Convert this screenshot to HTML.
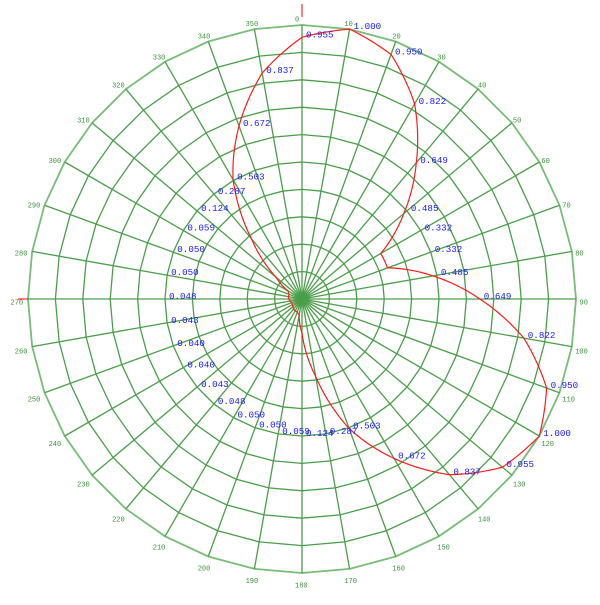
<!DOCTYPE html>
<html><head><meta charset="utf-8"><style>
html,body{margin:0;padding:0;background:#fff;}
svg{display:block;}
.al{font-family:"Liberation Mono",monospace;font-size:7px;fill:#3a8f3a;}
.vl{font-family:"Liberation Mono",monospace;font-size:9.2px;fill:#1a1aff;}
</style></head><body>
<svg width="600" height="605" viewBox="0 0 600 605" xmlns="http://www.w3.org/2000/svg">
<rect width="600" height="605" fill="#fff"/>
<g transform="translate(302 299)" fill="none" stroke="#4a9e4a" stroke-width="1.3">
<polygon vector-effect="non-scaling-stroke" transform="scale(27.4)" points="0,-1 .17365,-.98481 .34202,-.93969 .5,-.86603 .64279,-.76604 .76604,-.64279 .86603,-.5 .93969,-.34202 .98481,-.17365 1,0 .98481,.17365 .93969,.34202 .86603,.5 .76604,.64279 .64279,.76604 .5,.86603 .34202,.93969 .17365,.98481 0,1 -.17365,.98481 -.34202,.93969 -.5,.86603 -.64279,.76604 -.76604,.64279 -.86603,.5 -.93969,.34202 -.98481,.17365 -1,0 -.98481,-.17365 -.93969,-.34202 -.86603,-.5 -.76604,-.64279 -.64279,-.76604 -.5,-.86603 -.34202,-.93969 -.17365,-.98481"/>
<polygon vector-effect="non-scaling-stroke" transform="scale(54.8)" points="0,-1 .17365,-.98481 .34202,-.93969 .5,-.86603 .64279,-.76604 .76604,-.64279 .86603,-.5 .93969,-.34202 .98481,-.17365 1,0 .98481,.17365 .93969,.34202 .86603,.5 .76604,.64279 .64279,.76604 .5,.86603 .34202,.93969 .17365,.98481 0,1 -.17365,.98481 -.34202,.93969 -.5,.86603 -.64279,.76604 -.76604,.64279 -.86603,.5 -.93969,.34202 -.98481,.17365 -1,0 -.98481,-.17365 -.93969,-.34202 -.86603,-.5 -.76604,-.64279 -.64279,-.76604 -.5,-.86603 -.34202,-.93969 -.17365,-.98481"/>
<polygon vector-effect="non-scaling-stroke" transform="scale(82.2)" points="0,-1 .17365,-.98481 .34202,-.93969 .5,-.86603 .64279,-.76604 .76604,-.64279 .86603,-.5 .93969,-.34202 .98481,-.17365 1,0 .98481,.17365 .93969,.34202 .86603,.5 .76604,.64279 .64279,.76604 .5,.86603 .34202,.93969 .17365,.98481 0,1 -.17365,.98481 -.34202,.93969 -.5,.86603 -.64279,.76604 -.76604,.64279 -.86603,.5 -.93969,.34202 -.98481,.17365 -1,0 -.98481,-.17365 -.93969,-.34202 -.86603,-.5 -.76604,-.64279 -.64279,-.76604 -.5,-.86603 -.34202,-.93969 -.17365,-.98481"/>
<polygon vector-effect="non-scaling-stroke" transform="scale(109.6)" points="0,-1 .17365,-.98481 .34202,-.93969 .5,-.86603 .64279,-.76604 .76604,-.64279 .86603,-.5 .93969,-.34202 .98481,-.17365 1,0 .98481,.17365 .93969,.34202 .86603,.5 .76604,.64279 .64279,.76604 .5,.86603 .34202,.93969 .17365,.98481 0,1 -.17365,.98481 -.34202,.93969 -.5,.86603 -.64279,.76604 -.76604,.64279 -.86603,.5 -.93969,.34202 -.98481,.17365 -1,0 -.98481,-.17365 -.93969,-.34202 -.86603,-.5 -.76604,-.64279 -.64279,-.76604 -.5,-.86603 -.34202,-.93969 -.17365,-.98481"/>
<polygon vector-effect="non-scaling-stroke" transform="scale(137)" points="0,-1 .17365,-.98481 .34202,-.93969 .5,-.86603 .64279,-.76604 .76604,-.64279 .86603,-.5 .93969,-.34202 .98481,-.17365 1,0 .98481,.17365 .93969,.34202 .86603,.5 .76604,.64279 .64279,.76604 .5,.86603 .34202,.93969 .17365,.98481 0,1 -.17365,.98481 -.34202,.93969 -.5,.86603 -.64279,.76604 -.76604,.64279 -.86603,.5 -.93969,.34202 -.98481,.17365 -1,0 -.98481,-.17365 -.93969,-.34202 -.86603,-.5 -.76604,-.64279 -.64279,-.76604 -.5,-.86603 -.34202,-.93969 -.17365,-.98481"/>
<polygon vector-effect="non-scaling-stroke" transform="scale(164.4)" points="0,-1 .17365,-.98481 .34202,-.93969 .5,-.86603 .64279,-.76604 .76604,-.64279 .86603,-.5 .93969,-.34202 .98481,-.17365 1,0 .98481,.17365 .93969,.34202 .86603,.5 .76604,.64279 .64279,.76604 .5,.86603 .34202,.93969 .17365,.98481 0,1 -.17365,.98481 -.34202,.93969 -.5,.86603 -.64279,.76604 -.76604,.64279 -.86603,.5 -.93969,.34202 -.98481,.17365 -1,0 -.98481,-.17365 -.93969,-.34202 -.86603,-.5 -.76604,-.64279 -.64279,-.76604 -.5,-.86603 -.34202,-.93969 -.17365,-.98481"/>
<polygon vector-effect="non-scaling-stroke" transform="scale(191.8)" points="0,-1 .17365,-.98481 .34202,-.93969 .5,-.86603 .64279,-.76604 .76604,-.64279 .86603,-.5 .93969,-.34202 .98481,-.17365 1,0 .98481,.17365 .93969,.34202 .86603,.5 .76604,.64279 .64279,.76604 .5,.86603 .34202,.93969 .17365,.98481 0,1 -.17365,.98481 -.34202,.93969 -.5,.86603 -.64279,.76604 -.76604,.64279 -.86603,.5 -.93969,.34202 -.98481,.17365 -1,0 -.98481,-.17365 -.93969,-.34202 -.86603,-.5 -.76604,-.64279 -.64279,-.76604 -.5,-.86603 -.34202,-.93969 -.17365,-.98481"/>
<polygon vector-effect="non-scaling-stroke" transform="scale(219.2)" points="0,-1 .17365,-.98481 .34202,-.93969 .5,-.86603 .64279,-.76604 .76604,-.64279 .86603,-.5 .93969,-.34202 .98481,-.17365 1,0 .98481,.17365 .93969,.34202 .86603,.5 .76604,.64279 .64279,.76604 .5,.86603 .34202,.93969 .17365,.98481 0,1 -.17365,.98481 -.34202,.93969 -.5,.86603 -.64279,.76604 -.76604,.64279 -.86603,.5 -.93969,.34202 -.98481,.17365 -1,0 -.98481,-.17365 -.93969,-.34202 -.86603,-.5 -.76604,-.64279 -.64279,-.76604 -.5,-.86603 -.34202,-.93969 -.17365,-.98481"/>
<polygon vector-effect="non-scaling-stroke" transform="scale(246.6)" points="0,-1 .17365,-.98481 .34202,-.93969 .5,-.86603 .64279,-.76604 .76604,-.64279 .86603,-.5 .93969,-.34202 .98481,-.17365 1,0 .98481,.17365 .93969,.34202 .86603,.5 .76604,.64279 .64279,.76604 .5,.86603 .34202,.93969 .17365,.98481 0,1 -.17365,.98481 -.34202,.93969 -.5,.86603 -.64279,.76604 -.76604,.64279 -.86603,.5 -.93969,.34202 -.98481,.17365 -1,0 -.98481,-.17365 -.93969,-.34202 -.86603,-.5 -.76604,-.64279 -.64279,-.76604 -.5,-.86603 -.34202,-.93969 -.17365,-.98481"/>
<polygon vector-effect="non-scaling-stroke" stroke="#78bc78" stroke-width="1.8" transform="scale(274)" points="0,-1 .17365,-.98481 .34202,-.93969 .5,-.86603 .64279,-.76604 .76604,-.64279 .86603,-.5 .93969,-.34202 .98481,-.17365 1,0 .98481,.17365 .93969,.34202 .86603,.5 .76604,.64279 .64279,.76604 .5,.86603 .34202,.93969 .17365,.98481 0,1 -.17365,.98481 -.34202,.93969 -.5,.86603 -.64279,.76604 -.76604,.64279 -.86603,.5 -.93969,.34202 -.98481,.17365 -1,0 -.98481,-.17365 -.93969,-.34202 -.86603,-.5 -.76604,-.64279 -.64279,-.76604 -.5,-.86603 -.34202,-.93969 -.17365,-.98481"/>
<line y1="-274" y2="274"/>
<line y1="-274" y2="274" transform="rotate(10)"/>
<line y1="-274" y2="274" transform="rotate(20)"/>
<line y1="-274" y2="274" transform="rotate(30)"/>
<line y1="-274" y2="274" transform="rotate(40)"/>
<line y1="-274" y2="274" transform="rotate(50)"/>
<line y1="-274" y2="274" transform="rotate(60)"/>
<line y1="-274" y2="274" transform="rotate(70)"/>
<line y1="-274" y2="274" transform="rotate(80)"/>
<line y1="-274" y2="274" transform="rotate(90)"/>
<line y1="-274" y2="274" transform="rotate(100)"/>
<line y1="-274" y2="274" transform="rotate(110)"/>
<line y1="-274" y2="274" transform="rotate(120)"/>
<line y1="-274" y2="274" transform="rotate(130)"/>
<line y1="-274" y2="274" transform="rotate(140)"/>
<line y1="-274" y2="274" transform="rotate(150)"/>
<line y1="-274" y2="274" transform="rotate(160)"/>
<line y1="-274" y2="274" transform="rotate(170)"/>
</g>
<line x1="302" y1="4" x2="302" y2="17" stroke="#ff0000" stroke-width="1"/>
<line x1="18" y1="299" x2="28" y2="299" stroke="#ff0000" stroke-width="1"/>
<polyline id="curve" fill="none" stroke="#ff1a1a" stroke-width="1.2" points="302,37.33 349.58,29.16 391.03,54.4 414.61,103.95 416.31,162.77 403.8,213.58 380.78,253.52 387.48,267.89 432.87,275.92 479.83,299 523.81,338.11 546.6,388.03 539.29,436 502.45,467.2 449.42,474.68 394.07,458.46 349.14,428.51 315.66,376.44 302,332.98 299.19,314.92 297.31,311.87 295.15,310.86 293.55,309.07 292.98,306.57 292.51,304.48 291.7,302.75 290.4,301.05 288.85,299 288.51,296.62 289.13,294.31 288,290.92 275.97,277.16 251.45,238.76 233.09,179.64 239.02,125.97 262.17,73.14 302,37.33"/>
<g class="al">
<text x="295" y="21.5">0</text>
<text x="344.4" y="25.8">10</text>
<text x="392.3" y="38.6">20</text>
<text x="437.25" y="59.4">30</text>
<text x="477.9" y="87.7">40</text>
<text x="512.9" y="122.6">50</text>
<text x="541.4" y="163">60</text>
<text x="562.3" y="207.7">70</text>
<text x="575.2" y="255.4">80</text>
<text x="579.5" y="304.5">90</text>
<text x="575.2" y="353.6">100</text>
<text x="562.3" y="401.3">110</text>
<text x="541.4" y="446">120</text>
<text x="512.9" y="486.4">130</text>
<text x="477.9" y="521.3">140</text>
<text x="437.25" y="549.6">150</text>
<text x="392.3" y="570.4">160</text>
<text x="344.4" y="583.2">170</text>
<text x="295" y="587.5">180</text>
<text x="245.6" y="583.2">190</text>
<text x="197.7" y="570.4">200</text>
<text x="152.75" y="549.6">210</text>
<text x="112.1" y="521.3">220</text>
<text x="77.1" y="486.4">230</text>
<text x="48.6" y="446">240</text>
<text x="27.7" y="401.3">250</text>
<text x="14.8" y="353.6">260</text>
<text x="10.5" y="304.5">270</text>
<text x="14.8" y="255.4">280</text>
<text x="27.7" y="207.7">290</text>
<text x="48.6" y="163">300</text>
<text x="77.1" y="122.6">310</text>
<text x="112.1" y="87.7">320</text>
<text x="152.75" y="59.4">330</text>
<text x="197.7" y="38.6">340</text>
<text x="245.6" y="25.8">350</text>
</g>
<g class="vl">
<text x="306" y="37.3">0.955</text>
<text x="353.6" y="29.2">1.000</text>
<text x="395" y="54.4">0.950</text>
<text x="418.6" y="104">0.822</text>
<text x="420.3" y="162.8">0.649</text>
<text x="410.9" y="210.9">0.485</text>
<text x="424.6" y="230.5">0.332</text>
<text x="434.7" y="252.1">0.332</text>
<text x="440.9" y="275.2">0.485</text>
<text x="483.8" y="299">0.649</text>
<text x="527.8" y="338.1">0.822</text>
<text x="550.6" y="388">0.950</text>
<text x="543.3" y="436">1.000</text>
<text x="506.5" y="467.2">0.955</text>
<text x="453.4" y="474.7">0.837</text>
<text x="398.1" y="458.5">0.672</text>
<text x="353.1" y="428.5">0.503</text>
<text x="329.8" y="433.9">0.287</text>
<text x="306" y="436">0.124</text>
<text x="282.2" y="433.9">0.059</text>
<text x="259.1" y="427.7">0.050</text>
<text x="237.5" y="417.6">0.050</text>
<text x="217.9" y="404">0.048</text>
<text x="201.1" y="387.1">0.043</text>
<text x="187.4" y="367.5">0.040</text>
<text x="177.3" y="345.9">0.040</text>
<text x="171.1" y="322.8">0.043</text>
<text x="169" y="299">0.048</text>
<text x="171.1" y="275.2">0.050</text>
<text x="177.3" y="252.1">0.050</text>
<text x="187.4" y="230.5">0.059</text>
<text x="201.1" y="210.9">0.124</text>
<text x="217.9" y="194">0.287</text>
<text x="237.1" y="179.6">0.503</text>
<text x="243" y="126">0.672</text>
<text x="266.2" y="73.1">0.837</text>
</g>
</svg>
<script>
(function(){
var v=[.955,1,.95,.822,.649,.485,.332,.332,.485,.649,.822,.95,1,.955,.837,.672,.503,.287,.124,.059,.05,.05,.048,.043,.04,.04,.043,.048,.05,.05,.059,.124,.287,.503,.672,.837];
var pts=[];
for(var d=0;d<=360;d+=0.5){
var i=Math.floor(d/10)%36,f=(d%10)/10;
var r=(v[i]*(1-f)+v[(i+1)%36]*f)*274;
var a=d*Math.PI/180;
pts.push((302+r*Math.sin(a)).toFixed(2)+','+(299-r*Math.cos(a)).toFixed(2));
}
document.getElementById('curve').setAttribute('points',pts.join(' '));
})();
</script>
</body></html>
